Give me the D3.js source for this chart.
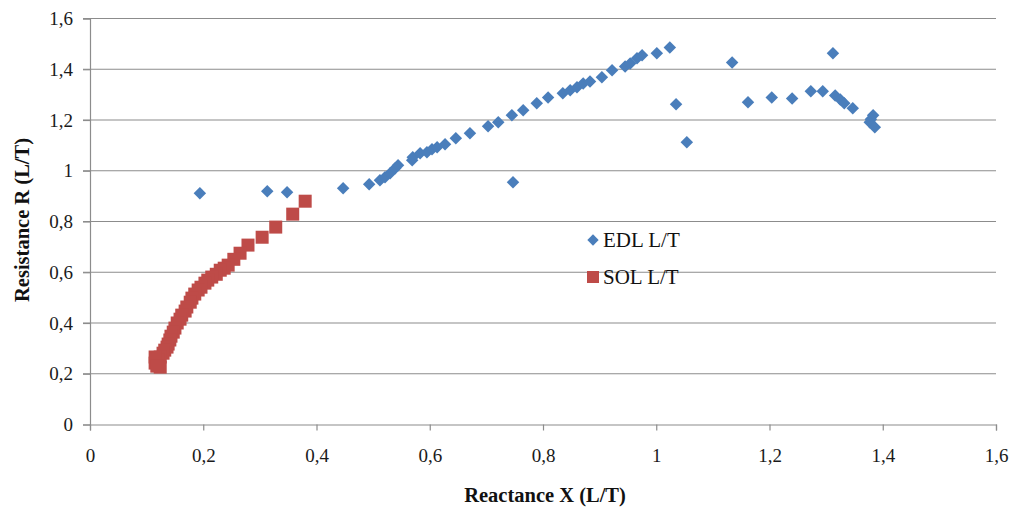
<!DOCTYPE html>
<html>
<head>
<meta charset="utf-8">
<title>Reactance vs Resistance</title>
<script src="https://d3js.org/d3.v7.min.js"></script>
<style>
  body { margin: 0; background: #fff; }
  text { font-family: "Liberation Serif", "Times New Roman", serif; }
</style>
</head>
<body>
<script>

// EDL L/T series (blue diamonds)
var edlX = [0.194, 0.313, 0.348, 0.447, 0.493, 0.512, 0.521, 0.530, 0.539, 0.544,
            0.569, 0.570, 0.583, 0.595, 0.604, 0.613, 0.627, 0.646, 0.671, 0.703,
            0.721, 0.745, 0.765, 0.789, 0.809, 0.835, 0.848, 0.860, 0.871, 0.883,
            0.904, 0.922, 0.945, 0.954, 0.966, 0.975, 1.001, 1.024, 1.035, 0.747,
            1.054, 1.134, 1.162, 1.204, 1.240, 1.273, 1.294, 1.312, 1.316, 1.325,
            1.332, 1.347, 1.383, 1.379, 1.377, 1.386];
var edlR = [0.911, 0.919, 0.915, 0.931, 0.947, 0.963, 0.974, 0.990, 1.010, 1.022,
            1.041, 1.053, 1.069, 1.073, 1.085, 1.093, 1.104, 1.128, 1.148, 1.175,
            1.191, 1.219, 1.238, 1.266, 1.289, 1.305, 1.317, 1.329, 1.344, 1.352,
            1.368, 1.396, 1.411, 1.423, 1.443, 1.455, 1.463, 1.486, 1.262, 0.955,
            1.112, 1.427, 1.270, 1.289, 1.285, 1.313, 1.313, 1.463, 1.297, 1.281,
            1.266, 1.246, 1.219, 1.203, 1.191, 1.171];

// SOL L/T series (red squares)
var solX = [0.380, 0.358, 0.328, 0.304, 0.279, 0.265, 0.254, 0.244, 0.237, 0.230,
            0.223, 0.215, 0.208, 0.203, 0.196, 0.191, 0.185, 0.180, 0.177, 0.171,
            0.168, 0.162, 0.159, 0.154, 0.150, 0.147, 0.143, 0.141, 0.138, 0.136,
            0.132, 0.129, 0.124, 0.120, 0.115, 0.115, 0.124, 0.118];
var solR = [0.880, 0.829, 0.778, 0.738, 0.707, 0.675, 0.651, 0.628, 0.616, 0.608,
            0.592, 0.581, 0.569, 0.557, 0.541, 0.530, 0.514, 0.498, 0.482, 0.463,
            0.447, 0.431, 0.415, 0.400, 0.380, 0.364, 0.348, 0.333, 0.317, 0.305,
            0.293, 0.281, 0.266, 0.254, 0.242, 0.266, 0.226, 0.230];

var xTicks = [0, 0.2, 0.4, 0.6, 0.8, 1, 1.2, 1.4, 1.6];
var yTicks = [0, 0.2, 0.4, 0.6, 0.8, 1, 1.2, 1.4, 1.6];
var seriesNames = ["EDL L/T", "SOL L/T"];

var W = 1016, H = 509;
var margin = {top: 18.5, right: 20, bottom: 84.5, left: 90};

var svg = d3.select("body").append("svg")
    .attr("width", W)
    .attr("height", H);

var x = d3.scaleLinear().domain([0, 1.6]).range([margin.left, 996]);
var y = d3.scaleLinear().domain([0, 1.6]).range([424.5, margin.top]);

var fmt = function(d) { return String(d).replace(".", ","); };

// gridlines
svg.append("g")
    .selectAll("line")
    .data(yTicks.slice(1))
    .enter().append("line")
    .attr("x1", x(0) - 7).attr("x2", x(1.6))
    .attr("y1", function(d) { return y(d); })
    .attr("y2", function(d) { return y(d); })
    .attr("stroke", "#8c8c8c")
    .attr("stroke-width", 1.2);

// y axis
var yAxis = svg.append("g")
    .attr("transform", "translate(" + x(0) + ",0)")
    .call(d3.axisLeft(y).tickValues(yTicks).tickFormat(fmt).tickSize(7).tickPadding(10));
yAxis.select(".domain").attr("stroke", "#8c8c8c").attr("stroke-width", 1.2);
yAxis.selectAll(".tick line").attr("stroke", "#8c8c8c").attr("stroke-width", 1.2);
yAxis.selectAll("text")
    .attr("font-family", "Liberation Serif, serif")
    .attr("font-size", 19)
    .attr("fill", "#1a1a1a");

// x axis
var xAxis = svg.append("g")
    .attr("transform", "translate(0," + y(0) + ")")
    .call(d3.axisBottom(x).tickValues(xTicks).tickFormat(fmt).tickSize(6).tickPadding(18));
xAxis.select(".domain").attr("stroke", "#8c8c8c").attr("stroke-width", 1.2);
xAxis.selectAll(".tick line").attr("stroke", "#8c8c8c").attr("stroke-width", 1.2);
xAxis.selectAll("text")
    .attr("font-family", "Liberation Serif, serif")
    .attr("font-size", 19)
    .attr("fill", "#1a1a1a");

// axis titles
svg.append("text")
    .attr("x", 545).attr("y", 502)
    .attr("text-anchor", "middle")
    .attr("font-weight", "bold")
    .attr("font-size", 20.5)
    .attr("fill", "#111")
    .text("Reactance X (L/T)");

svg.append("text")
    .attr("transform", "translate(29,220) rotate(-90)")
    .attr("text-anchor", "middle")
    .attr("font-weight", "bold")
    .attr("font-size", 20.5)
    .attr("fill", "#111")
    .text("Resistance R (L/T)");

var blue = "#4a7ebb", red = "#be4b48";
var diamond = d3.symbol().type(d3.symbolSquare).size(78);

var edl = edlX.map(function(v, i) { return {x: v, r: edlR[i]}; });
var sol = solX.map(function(v, i) { return {x: v, r: solR[i]}; });

svg.append("g").selectAll("path")
    .data(edl)
    .enter().append("path")
    .attr("d", diamond)
    .attr("transform", function(d) { return "translate(" + x(d.x) + "," + y(d.r) + ") rotate(45)"; })
    .attr("fill", blue);

svg.append("g").selectAll("rect")
    .data(sol)
    .enter().append("rect")
    .attr("x", function(d) { return x(d.x) - 6.5; })
    .attr("y", function(d) { return y(d.r) - 6.5; })
    .attr("width", 13).attr("height", 13)
    .attr("fill", red);

// legend
var legend = svg.append("g").attr("transform", "translate(593,240)");
legend.append("path")
    .attr("d", d3.symbol().type(d3.symbolSquare).size(64))
    .attr("transform", "rotate(45)")
    .attr("fill", blue);
legend.append("rect")
    .attr("x", -6).attr("y", 31).attr("width", 12).attr("height", 12)
    .attr("fill", red);
legend.selectAll("text.lg")
    .data(seriesNames)
    .enter().append("text")
    .attr("class", "lg")
    .attr("x", 10)
    .attr("y", function(d, i) { return 7 + i * 37; })
    .attr("font-size", 21)
    .attr("fill", "#111")
    .text(function(d) { return d; });

</script>
</body>
</html>
